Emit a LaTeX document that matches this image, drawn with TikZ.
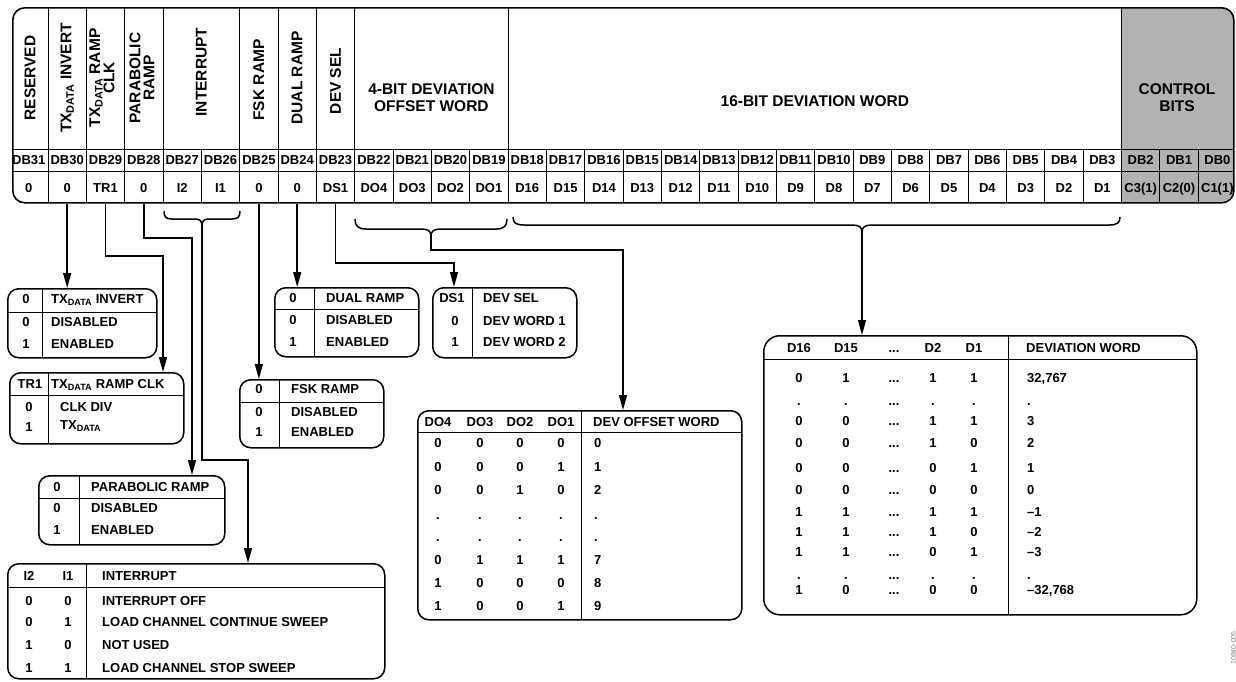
\documentclass[tikz,border=0pt]{standalone}
\usepackage{fontspec}
\setmainfont{Liberation Sans}
\usetikzlibrary{arrows.meta}
\newcommand{\TXD}{TX\textsubscript{DATA}}
\begin{document}
\begin{tikzpicture}[x=1pt,y=-1pt,
  lbl/.style={font=\fontsize{13}{15}\selectfont\bfseries, inner sep=0pt, text height=9.3pt, text depth=0pt},
  lw/.style={lbl, anchor=west},
  hdr/.style={font=\fontsize{15.5}{13}\selectfont\bfseries, inner sep=0pt, align=center},
  hdrh/.style={font=\fontsize{15.5}{17}\selectfont\bfseries, inner sep=0pt, align=center},
  thinline/.style={line width=0.8pt},
  tl/.style={line width=1pt},
  tbl/.style={draw, line width=1.5pt, rounded corners=11pt, inner sep=0pt, anchor=north west},
  conn/.style={line width=1.5pt},
  arr/.style={conn, -{Triangle[length=15pt,width=8pt]}},
  brace/.style={line width=1.5pt},
]
\useasboundingbox (0,0) rectangle (1236,681);

% ---------------- register ----------------
\begin{scope}
\clip (1121.52,0) rectangle (1236,210);
\fill[gray!60, rounded corners=12pt] (12,7) rectangle (1233,202);
\end{scope}
\node[draw, line width=1.6pt, rounded corners=12pt, minimum width=1221pt, minimum height=195pt, anchor=north west, inner sep=0pt] (reg) at (12,7) {};
\draw[thinline] (12,149) -- (1233,149);
\draw[thinline] (12,171) -- (1233,171);
\foreach \i in {1,2,3,4,6,7,8,9,13,29}
  \draw[thinline] ({48+38.34*(\i-1)},7) -- ({48+38.34*(\i-1)},202);
\foreach \i in {5,10,11,12,14,15,16,17,18,19,20,21,22,23,24,25,26,27,28,30,31}
  \draw[thinline] ({48+38.34*(\i-1)},149) -- ({48+38.34*(\i-1)},202);

\foreach \i in {0,...,31} {
  \pgfmathtruncatemacro\n{31-\i}
  \node[lbl] (db\n) at ({28.83+38.34*\i},160) {DB\n};
}
\foreach \v [count=\i from 0] in {0,0,TR1,0,I2,I1,0,0,DS1,DO4,DO3,DO2,DO1,D16,D15,D14,D13,D12,D11,D10,D9,D8,D7,D6,D5,D4,D3,D2,D1,{C3(1)},{C2(0)},{C1(1)}}
  \node[lbl] (v\i) at ({28.83+38.34*\i},188) {\v};

\node[hdr, rotate=90] (hRes) at (30,78) {RESERVED};
\node[hdr, rotate=90] (hInv) at (67.2,78) {\TXD\ INVERT};
\node[hdr, rotate=90] (hClk) at (102,78) {\TXD\ RAMP\\CLK};
\node[hdr, rotate=90, font=\fontsize{15.5}{14}\selectfont\bfseries] (hPar) at (142,78) {PARABOLIC\\RAMP};
\node[hdr, rotate=90] (hInt) at (201.4,72) {INTERRUPT};
\node[hdr, rotate=90] (hFsk) at (258.9,80) {FSK RAMP};
\node[hdr, rotate=90] (hDual) at (297.2,78) {DUAL RAMP};
\node[hdr, rotate=90] (hDev) at (335.5,81) {DEV SEL};
\node[hdrh] (hOff) at (431.4,97.5) {4-BIT DEVIATION\\OFFSET WORD};
\node[hdrh] (hWord) at (814.8,101) {16-BIT DEVIATION WORD};
\node[hdrh] (hCtl) at (1177,97.5) {CONTROL\\BITS};

% ---------------- braces ----------------
\draw[brace] (164,211) .. controls (164,217) and (166,219) .. (172,219) -- (195,219) .. controls (200,219) and (202,221) .. (202,226) .. controls (202,221) and (204,219) .. (209,219) -- (232,219) .. controls (238,219) and (240,217) .. (240,211);
\coordinate (bI) at (202,226);
\draw[brace] (355,219) .. controls (355,226) and (358,229) .. (366,229) -- (421,229) .. controls (428,229) and (431,231) .. (431,236) .. controls (431,231) and (434,229) .. (441,229) -- (496,229) .. controls (504,229) and (507,226) .. (507,219);
\coordinate (bO) at (431,236);
\draw[brace] (513,217) .. controls (513,223) and (516,225) .. (524,225) -- (852,225) .. controls (859,225) and (862,227) .. (862,232) .. controls (862,227) and (865,225) .. (872,225) -- (1109,225) .. controls (1117,225) and (1120,223) .. (1120,217);
\coordinate (bD) at (862,232);

% ---------------- tables ----------------
% TX data invert
\node[tbl, minimum width=149pt, minimum height=69pt] (tA) at (7,288) {};
\draw[tl] (7,312) -- (156,312);
\draw[tl] (42,288) -- (42,357);
\node[lbl] (a1) at (26,299) {0}; \node[lw] (a2) at (51,299) {\TXD\ INVERT};
\node[lbl] (a3) at (26,322) {0}; \node[lw] (a4) at (51,322) {DISABLED};
\node[lbl] (a5) at (26,344) {1}; \node[lw] (a6) at (51,344) {ENABLED};

% TX data ramp clk
\node[tbl, minimum width=174pt, minimum height=71pt] (tB) at (9,372) {};
\draw[tl] (9,395) -- (183,395);
\draw[tl] (48,372) -- (48,443);
\node[lbl] (b1) at (30,384) {TR1}; \node[lw] (b2) at (51,384) {\TXD\ RAMP CLK};
\node[lbl] (b3) at (29,407) {0}; \node[lw] (b4) at (60,407) {CLK DIV};
\node[lbl] (b5) at (29,427) {1}; \node[lw] (b6) at (60,425) {\TXD};

% parabolic ramp
\node[tbl, minimum width=186pt, minimum height=69pt] (tC) at (38,475) {};
\draw[tl] (38,498) -- (224,498);
\draw[tl] (79,475) -- (79,544);
\node[lbl] (c1) at (57,487) {0}; \node[lw] (c2) at (91,487) {PARABOLIC RAMP};
\node[lbl] (c3) at (57,508) {0}; \node[lw] (c4) at (91,508) {DISABLED};
\node[lbl] (c5) at (57,530) {1}; \node[lw] (c6) at (91,530) {ENABLED};

% interrupt
\node[tbl, minimum width=377pt, minimum height=115pt] (tD) at (7,563) {};
\draw[tl] (7,587) -- (384,587);
\draw[tl] (86,563) -- (86,678);
\node[lbl] (d1) at (29,576) {I2}; \node[lbl] (d2) at (68,576) {I1}; \node[lw] (d3) at (102,576) {INTERRUPT};
\foreach \y/\p/\q/\t [count=\k] in {601/0/0/INTERRUPT OFF, 622/0/1/LOAD CHANNEL CONTINUE SWEEP, 645/1/0/NOT USED, 668/1/1/LOAD CHANNEL STOP SWEEP} {
  \node[lbl] (dp\k) at (29,\y) {\p};
  \node[lbl] (dq\k) at (68,\y) {\q};
  \node[lw] (dt\k) at (102,\y) {\t};
}

% dual ramp
\node[tbl, minimum width=144pt, minimum height=69pt] (tE) at (274,287) {};
\draw[tl] (274,309) -- (418,309);
\draw[tl] (314,287) -- (314,356);
\node[lbl] (e1) at (293,298) {0}; \node[lw] (e2) at (326,298) {DUAL RAMP};
\node[lbl] (e3) at (293,320) {0}; \node[lw] (e4) at (326,320) {DISABLED};
\node[lbl] (e5) at (293,342) {1}; \node[lw] (e6) at (326,342) {ENABLED};

% dev sel
\node[tbl, minimum width=144pt, minimum height=70pt] (tF) at (432,287) {};
\draw[tl] (472,287) -- (472,357);
\node[lbl] (f1) at (452,298) {DS1}; \node[lw] (f2) at (483,298) {DEV SEL};
\node[lbl] (f3) at (455,321) {0}; \node[lw] (f4) at (483,321) {DEV WORD 1};
\node[lbl] (f5) at (455,342) {1}; \node[lw] (f6) at (483,342) {DEV WORD 2};

% fsk ramp
\node[tbl, minimum width=144pt, minimum height=68pt] (tG) at (239,379) {};
\draw[tl] (239,402) -- (383,402);
\draw[tl] (279,379) -- (279,447);
\node[lbl] (g1) at (259,389) {0}; \node[lw] (g2) at (291,389) {FSK RAMP};
\node[lbl] (g3) at (259,412) {0}; \node[lw] (g4) at (291,412) {DISABLED};
\node[lbl] (g5) at (259,432) {1}; \node[lw] (g6) at (291,432) {ENABLED};

% dev offset word
\node[tbl, minimum width=324pt, minimum height=209pt] (tH) at (417,410) {};
\draw[tl] (417,432) -- (741,432);
\draw[tl] (581,410) -- (581,619);
\node[lbl] (hh1) at (438,422) {DO4}; \node[lbl] (hh2) at (480,422) {DO3};
\node[lbl] (hh3) at (520,422) {DO2}; \node[lbl] (hh4) at (561,422) {DO1};
\node[lw] (hh5) at (593,422) {DEV OFFSET WORD};
\foreach \y/\a/\b/\c/\d/\e [count=\k] in {443/0/0/0/0/0, 467/0/0/0/1/1, 490/0/0/1/0/2, 515/./././././., 537/./././././., 560/0/1/1/1/7, 583/1/0/0/0/8, 606/1/0/0/1/9} {
  \node[lbl] (ha\k) at (438,\y) {\a};
  \node[lbl] (hb\k) at (480,\y) {\b};
  \node[lbl] (hc\k) at (520,\y) {\c};
  \node[lbl] (hd\k) at (561,\y) {\d};
  \node[lw] (he\k) at (594,\y) {\e};
}

% deviation word
\node[tbl, rounded corners=16pt, minimum width=433pt, minimum height=279pt] (tI) at (763,335) {};
\draw[tl] (763,359) -- (1196,359);
\draw[tl] (1008,335) -- (1008,614);
\node[lbl] (i1) at (799,348) {D16}; \node[lbl] (i2) at (846,348) {D15};
\node[lbl] (i3) at (894,348) {...}; \node[lbl] (i4) at (933,348) {D2};
\node[lbl] (i5) at (974,348) {D1}; \node[lw] (i6) at (1026,348) {DEVIATION WORD};
\foreach \y/\a/\b/\d/\e/\w [count=\k] in {378/0/1/1/1/{32,767}, 401/./././././, 421/0/0/1/1/3, 443/0/0/1/0/2, 468/0/0/0/1/1, 490/0/0/0/0/0, 512/1/1/1/1/{–1}, 532/1/1/1/0/{–2}, 552/1/1/0/1/{–3}, 575/./././././, 590/1/0/0/0/{–32,768}} {
  \node[lbl] (ia\k) at (799,\y) {\a};
  \node[lbl] (ib\k) at (846,\y) {\b};
  \node[lbl] (ic\k) at (894,\y) {...};
  \node[lbl] (id\k) at (933,\y) {\d};
  \node[lbl] (ie\k) at (974,\y) {\e};
  \node[lw] (iw\k) at (1027,\y) {\w};
}

% ---------------- connectors ----------------
\draw[arr] (v1 |- reg.south) -- (v1 |- tA.north);
\draw[arr] (v2 |- reg.south) -- (v2 |- 0,256) -| ([xshift=154pt]tB.north west);
\draw[arr] (v3 |- reg.south) -- (v3 |- 0,238) -| ([xshift=154pt]tC.north west);
\draw[arr] (bI) -- (bI |- 0,460) -| ([xshift=241pt]tD.north west);
\draw[arr] (v6 |- reg.south) -- (v6 |- tG.north);
\draw[arr] (v7 |- reg.south) -- (v7 |- tE.north);
\draw[arr] (v8 |- reg.south) -- (v8 |- 0,263) -| ([xshift=22pt]tF.north west);
\draw[arr] (bO) -- (bO |- 0,250) -| ([xshift=206pt]tH.north west);
\draw[arr] (bD) -- (bD |- tI.north);

\node[font=\fontsize{7}{8}\selectfont, text=gray, rotate=90, inner sep=0pt] (figid) at (1233.5,648) {10840-005};
\end{tikzpicture}
\end{document}
